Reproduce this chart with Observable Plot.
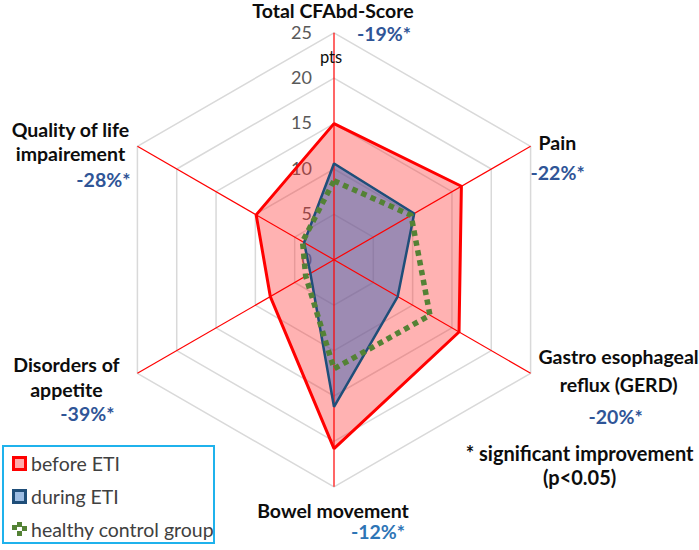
<!DOCTYPE html>
<html>
<head>
<meta charset="utf-8">
<script src="https://cdn.jsdelivr.net/npm/d3@7"></script>
<script src="https://cdn.jsdelivr.net/npm/@observablehq/plot@0.6"></script>
<style>
  body { margin: 0; background: #fff; font-family: Lato, "Open Sans", sans-serif; }
  #wrap { position: relative; width: 699px; height: 550px; }
  #legend { position: absolute; left: 2px; top: 445px; width: 213px; height: 99px;
            border: 2px solid #1fb2ec; box-sizing: border-box; background: #fff; }
  .item { position: absolute; left: 8px; display: flex; align-items: center;
          font-size: 19.5px; color: #404040; height: 22px; white-space: nowrap; }
  .item svg { margin-right: 4px; }
</style>
</head>
<body>
<div id="wrap"></div>
<script>
// ---- data ----
const categories = ["Total CFAbd-Score", "Pain", "Gastro esophageal reflux (GERD)", "Bowel movement", "Disorders of appetite", "Quality of life impairement"];
const labelLines = ["Total CFAbd-Score", "Pain", "Gastro esophageal\nreflux (GERD)", "Bowel movement", "Disorders of\nappetite", "Quality of life\nimpairement"];
const beforeETI = [15.0, 16.2, 15.9, 20.8, 8.1, 9.9];
const duringETI = [10.6, 10.2, 8.1, 16.2, 3.0, 3.8];
const healthyControl = [8.7, 9.8, 12.2, 12.0, 3.6, 4.0];
const changes = ["-19%*", "-22%*", "-20%*", "-12%*", "-39%*", "-28%*"];
const ticks = [0, 5, 10, 15, 20, 25];
const maxValue = 25;
const seriesNames = ["before ETI", "during ETI", "healthy control group"];

// ---- layout (pixel offsets from each axis end) ----
const labelLayout = [
  {dx: -1, dy: -22.5, anchor: "middle", lh: 1.2},
  {dx: 8, dy: -4, anchor: "start", lh: 1.2},
  {dx: 88, dy: -4, anchor: "middle", lh: 1.42},
  {dx: -1, dy: 24, anchor: "middle", lh: 1.2},
  {dx: -71, dy: 3, anchor: "middle", lh: 1.32},
  {dx: -67, dy: -5, anchor: "middle", lh: 1.23}
];
const changeLayout = [
  {dx: 50, dy: 2, color: "#2F5597"},
  {dx: 27, dy: 27, color: "#2F5597"},
  {dx: 85, dy: 44, color: "#2F5597"},
  {dx: 44, dy: 46, color: "#2E75B6"},
  {dx: -50, dy: 41, color: "#2F5597"},
  {dx: -34, dy: 34, color: "#2F5597"}
];

const angle = i => i * 2 * Math.PI / categories.length;
const px = (v, i) => v * Math.sin(angle(i));
const py = (v, i) => v * Math.cos(angle(i));

const toRows = (vals, name) => vals.map((v, i) => ({series: name, i, value: v, x: px(v, i), y: py(v, i)}));
const beforeRows = toRows(beforeETI, seriesNames[0]);
const duringRows = toRows(duringETI, seriesNames[1]);
const healthyRows = toRows(healthyControl, seriesNames[2]);

const gridRows = ticks.filter(t => t > 0).flatMap(t => categories.map((c, i) => ({t, x: px(t, i), y: py(t, i)})));

const labelMarks = categories.map((c, i) => Plot.text([i], {
  x: d => px(maxValue, d), y: d => py(maxValue, d), text: d => labelLines[d],
  dx: labelLayout[i].dx, dy: labelLayout[i].dy, textAnchor: labelLayout[i].anchor,
  lineAnchor: "middle", lineHeight: labelLayout[i].lh,
  fontWeight: "bold", fontSize: 19.5, fill: "#0d0d0d"
}));
const changeMarks = categories.map((c, i) => Plot.text([i], {
  x: d => px(maxValue, d), y: d => py(maxValue, d), text: d => changes[d],
  dx: changeLayout[i].dx, dy: changeLayout[i].dy, textAnchor: "middle",
  lineAnchor: "middle", fontWeight: "bold", fontSize: 19.5, fill: changeLayout[i].color
}));

const chart = Plot.plot({
  width: 699,
  height: 550,
  marginLeft: 106.5,
  marginRight: 138.5,
  marginTop: 32.3,
  marginBottom: 63.7,
  x: {domain: [-maxValue, maxValue], axis: null},
  y: {domain: [-maxValue, maxValue], axis: null},
  style: {fontFamily: "Lato, 'Open Sans', sans-serif", background: "#fff", overflow: "visible"},
  marks: [
    Plot.line(gridRows, {x: "x", y: "y", z: "t", curve: "linear-closed", stroke: "#d9d9d9", strokeWidth: 1.5}),
    Plot.text(ticks, {x: () => 0, y: d => d, text: d => String(d), textAnchor: "end", dx: -22,
      fill: "#595959", fontSize: 18, lineAnchor: "middle"}),
    Plot.line(beforeRows, {x: "x", y: "y", curve: "linear-closed", fill: "#ff2a2a", fillOpacity: 0.36, stroke: "none"}),
    Plot.line(duringRows, {x: "x", y: "y", curve: "linear-closed", fill: "#3c64b4", fillOpacity: 0.5, stroke: "none"}),
    Plot.link(categories, {x1: () => 0, y1: () => 0, x2: (d, i) => px(maxValue, i), y2: (d, i) => py(maxValue, i),
      stroke: "#ff0000", strokeWidth: 1.2}),
    Plot.line(beforeRows, {x: "x", y: "y", curve: "linear-closed", stroke: "#ff0000", strokeWidth: 3, strokeLinejoin: "miter"}),
    Plot.line(duringRows, {x: "x", y: "y", curve: "linear-closed", stroke: "#1f4e79", strokeWidth: 2.5, strokeLinejoin: "miter"}),
    Plot.line(healthyRows, {x: "x", y: "y", curve: "linear-closed", stroke: "#548235", strokeWidth: 5.5,
      strokeDasharray: "5.5,4.5", strokeLinecap: "butt"}),
    Plot.text(["pts"], {x: () => 0, y: () => maxValue, text: d => d, dx: -3, dy: 25, fontSize: 16.5, fill: "#0d0d0d", lineAnchor: "middle"}),
    ...labelMarks,
    ...changeMarks,
    Plot.text(["* significant improvement\n(p<0.05)"], {x: () => px(maxValue, 2), y: () => py(maxValue, 2),
      text: d => d, dx: 49, dy: 92, textAnchor: "middle", lineAnchor: "middle", lineHeight: 1.2,
      fontWeight: "bold", fontSize: 20, fill: "#0d0d0d"})
  ]
});

const wrap = document.getElementById("wrap");
wrap.appendChild(chart);

// legend
const legend = document.createElement("div");
legend.id = "legend";
const icons = [
  `<svg width="15" height="15"><rect x="1.5" y="1.5" width="12" height="12" fill="#ffaaaa" stroke="#ff0000" stroke-width="3"/></svg>`,
  `<svg width="15" height="15"><rect x="1.5" y="1.5" width="12" height="12" fill="#9dbde3" stroke="#1f4e79" stroke-width="3"/></svg>`,
  `<svg width="15" height="15"><g fill="#548235"><rect x="0" y="3" width="5" height="5"/><rect x="5" y="0" width="5" height="5"/><rect x="10" y="4" width="5" height="5"/><rect x="5" y="9" width="5" height="5"/></g></svg>`
];
const tops = [5, 38, 71];
seriesNames.forEach((s, k) => {
  const it = document.createElement("div");
  it.className = "item";
  it.style.top = tops[k] + "px";
  it.innerHTML = icons[k] + "<span>" + s + "</span>";
  legend.appendChild(it);
});
wrap.appendChild(legend);
</script>
</body>
</html>
